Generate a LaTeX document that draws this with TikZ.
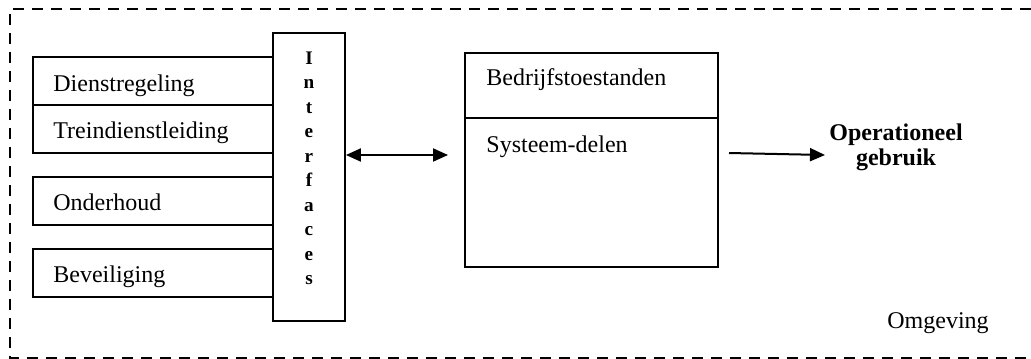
\documentclass[tikz,border=0pt]{standalone}
\usepackage{fontspec}
\setmainfont{Liberation Serif}
\usetikzlibrary{arrows.meta}
\begin{document}
\begin{tikzpicture}[x=0.5pt,y=-0.5pt,
  >={Triangle[length=7.5pt,width=6.5pt]},
  box/.style={draw, line width=0.9pt, inner sep=0pt, rectangle},
  lbox/.style={box, minimum width=120pt, minimum height=24pt},
  lbl/.style={anchor=base west, inner sep=0pt, font=\fontsize{12}{14}\selectfont},
  arr/.style={line width=1pt},
  frame/.style={line width=1.2pt, dash pattern=on 5.5pt off 4pt}]
\useasboundingbox (0,0) rectangle (1031,358);
% surrounding environment frame
\draw[frame] (1045,357.8) -- (10,357.8) -- (10,9) -- (1045,9);
% left boxes
\node[lbox] (dr) at (153,81) {};
\node[lbox] (td) at (153,129) {};
\node[lbox] (oh) at (153,201) {};
\node[lbox] (bv) at (153,273) {};
\node[lbl] (drt) at (53,91) {Dienstregeling};
\node[lbl] (tdt) at (53,138) {Treindienstleiding};
\node[lbl] (oht) at (53,210) {Onderhoud};
\node[lbl] (bvt) at (53,282) {Beveiliging};
% interfaces
\node[box, minimum width=36pt, minimum height=144pt, fill=white] (iface) at (309,177) {};
\node[anchor=north, inner sep=0pt, align=center,
      font=\fontsize{9.6}{12.25}\selectfont\bfseries] (ift) at (309,51.5)
      {I\\n\\t\\e\\r\\f\\a\\c\\e\\s};
% right box
\node[box, minimum width=126.5pt, minimum height=32.8pt] (bt) at (591.5,85.5) {};
\node[box, minimum width=126.5pt, minimum height=74.35pt] (sd) at (591.5,192.65) {};
\node[lbl] (btt) at (486,85) {Bedrijfstoestanden};
\node[lbl] (sdt) at (486,152) {Systeem-delen};
% arrows
\coordinate (da) at (448,155);
\draw[arr,<->] (iface.east |- da) -- (da);
\coordinate (oa) at (729,153);
\coordinate (ob) at (825,155);
\draw[arr,->] (oa) -- (ob);
% labels
\node[anchor=north, inner sep=0pt, align=center,
      font=\fontsize{12}{12.5}\selectfont\bfseries] (op) at (896,123.5)
      {Operationeel\\gebruik};
\node[lbl] (omg) at (887,328) {Omgeving};
\end{tikzpicture}
\end{document}
